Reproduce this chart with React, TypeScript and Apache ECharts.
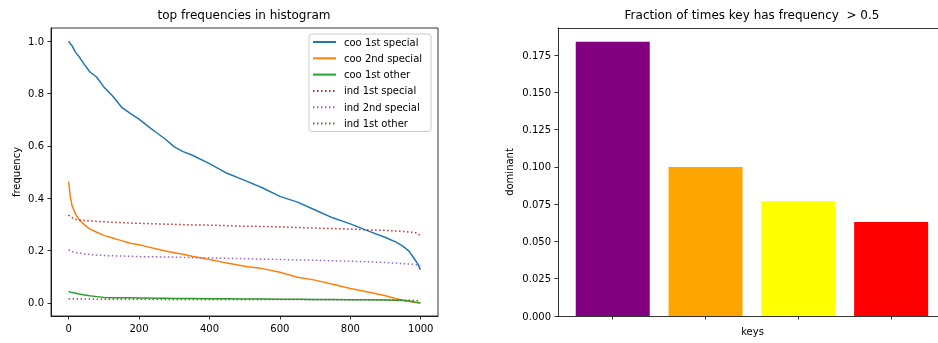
import React, { useEffect, useRef } from "react";
import * as echarts from "echarts";

// ---- data ----
const sampleX = [0, 5, 10, 20, 30, 45, 60, 80, 100, 125, 150, 175, 200, 225, 250, 275, 300, 325, 350, 400, 450, 500, 550, 600, 650, 700, 750, 800, 850, 900, 930, 950, 965, 975, 985, 992, 999];

const coo1stSpecial = [1.0, 0.99, 0.982, 0.957, 0.94, 0.91, 0.883, 0.862, 0.825, 0.79, 0.748, 0.724, 0.702, 0.675, 0.65, 0.625, 0.596, 0.578, 0.565, 0.532, 0.495, 0.468, 0.44, 0.407, 0.385, 0.355, 0.325, 0.302, 0.275, 0.25, 0.232, 0.216, 0.2, 0.182, 0.162, 0.148, 0.127];
const coo2ndSpecial = [0.463, 0.405, 0.37, 0.338, 0.318, 0.298, 0.283, 0.27, 0.258, 0.248, 0.238, 0.228, 0.222, 0.214, 0.206, 0.198, 0.192, 0.186, 0.178, 0.166, 0.152, 0.14, 0.131, 0.117, 0.098, 0.087, 0.071, 0.055, 0.042, 0.027, 0.016, 0.01, 0.006, 0.004, 0.002, 0.001, 0.0];
const coo1stOther = [0.044, 0.041, 0.04, 0.037, 0.034, 0.03, 0.027, 0.024, 0.021, 0.02, 0.02, 0.02, 0.019, 0.019, 0.018, 0.018, 0.017, 0.017, 0.017, 0.016, 0.016, 0.015, 0.015, 0.014, 0.014, 0.013, 0.013, 0.012, 0.012, 0.011, 0.01, 0.009, 0.007, 0.005, 0.003, 0.002, 0.001];
const ind1stSpecial = [0.336, 0.33, 0.326, 0.32, 0.317, 0.315, 0.313, 0.311, 0.31, 0.308, 0.307, 0.305, 0.304, 0.303, 0.302, 0.301, 0.3, 0.299, 0.298, 0.297, 0.295, 0.293, 0.292, 0.29, 0.288, 0.286, 0.284, 0.282, 0.279, 0.277, 0.275, 0.273, 0.271, 0.27, 0.268, 0.265, 0.255];
const ind2ndSpecial = [0.203, 0.199, 0.196, 0.192, 0.19, 0.187, 0.185, 0.183, 0.181, 0.18, 0.179, 0.178, 0.177, 0.176, 0.176, 0.175, 0.175, 0.174, 0.173, 0.172, 0.17, 0.169, 0.167, 0.166, 0.164, 0.163, 0.161, 0.159, 0.157, 0.154, 0.152, 0.15, 0.149, 0.148, 0.146, 0.145, 0.143];
const ind1stOther = [0.016, 0.016, 0.016, 0.015, 0.015, 0.015, 0.015, 0.014, 0.014, 0.014, 0.014, 0.014, 0.014, 0.014, 0.014, 0.013, 0.013, 0.013, 0.013, 0.013, 0.013, 0.013, 0.013, 0.013, 0.013, 0.012, 0.012, 0.012, 0.012, 0.012, 0.011, 0.011, 0.01, 0.01, 0.009, 0.008, 0.007];

const lineNames = ["coo 1st special", "coo 2nd special", "coo 1st other", "ind 1st special", "ind 2nd special", "ind 1st other"];
const lineValues = [coo1stSpecial, coo2ndSpecial, coo1stOther, ind1stSpecial, ind2ndSpecial, ind1stOther];
const lineColors = ["#1f77b4", "#ff7f0e", "#2ca02c", "#d62728", "#9467bd", "#8c564b"];
const lineDotted = [false, false, false, true, true, true];

const barPositions = [0, 1, 2, 3];
const barValues = [0.184, 0.1, 0.077, 0.063];
const barColors = ["#800080", "#ffa500", "#ffff00", "#ff0000"];

const leftXTicks = [0, 200, 400, 600, 800, 1000];
const leftYTicks = [0, 0.2, 0.4, 0.6, 0.8, 1.0];
const rightYTicks = [0, 0.025, 0.05, 0.075, 0.1, 0.125, 0.15, 0.175];

const FONT = "DejaVu Sans";

export default function App() {
  const ref = useRef<HTMLDivElement>(null);
  useEffect(() => {
    if (!ref.current) return;
    const chart = echarts.init(ref.current, null, { renderer: "svg" });
    const axisLine = { show: true, onZero: false, lineStyle: { color: "#000", width: 0.8 } };
    const axisTick = { show: true, length: 3.5, lineStyle: { color: "#000", width: 0.8 } };
    const labelBase = { color: "#000", fontSize: 10, fontFamily: FONT, margin: 7 };

    const lineSeries = lineNames.map((name, i) => ({
      type: "line",
      name,
      xAxisIndex: 0,
      yAxisIndex: 0,
      symbol: "none",
      showSymbol: false,
      data: sampleX.map((x, j) => [x, lineValues[i][j]]),
      lineStyle: {
        color: lineColors[i],
        width: 1.5,
        type: lineDotted[i] ? [1.5, 2.5] : "solid",
      },
      itemStyle: { color: lineColors[i] },
      z: 2 + i,
    }));

    // right panel: the axes box runs past the page edge; show the visible part only
    const barMin = -0.59;
    const barVisibleMax = 3.505;

    chart.setOption({
      animation: false,
      textStyle: { fontFamily: FONT },
      title: [
        {
          text: "top frequencies in histogram",
          left: 244,
          top: 9,
          textAlign: "center",
          padding: 0,
          textStyle: { fontSize: 12, fontWeight: "normal", color: "#000", fontFamily: FONT },
        },
        {
          text: "Fraction of times key has frequency  > 0.5",
          left: 752,
          top: 9,
          textAlign: "center",
          padding: 0,
          textStyle: { fontSize: 12, fontWeight: "normal", color: "#000", fontFamily: FONT },
        },
      ],
      legend: {
        data: lineNames,
        orient: "vertical",
        left: 309,
        top: 34,
        padding: [3, 9, 3, 3],
        itemWidth: 23,
        itemHeight: 10,
        itemGap: 6.3,
        backgroundColor: "rgba(255,255,255,0.8)",
        borderColor: "#cccccc",
        borderWidth: 1,
        borderRadius: 3,
        itemStyle: { opacity: 0, color: "rgba(0,0,0,0)", borderWidth: 0 },
        textStyle: { fontSize: 10, color: "#000", fontFamily: FONT, padding: [0, 0, 0, 3] },
      },
      grid: [
        { left: 51, top: 28, width: 387, height: 288, show: true, borderColor: "#000", borderWidth: 0.8, containLabel: false },
        { left: 558, top: 28, width: 380, height: 288, show: false, containLabel: false },
      ],
      xAxis: [
        {
          type: "value",
          gridIndex: 0,
          min: -50,
          max: 1049,
          axisLine,
          axisTick: { ...axisTick, customValues: leftXTicks },
          axisLabel: { ...labelBase, customValues: leftXTicks, formatter: (v: number) => String(Math.round(v)) },
          splitLine: { show: false },
        },
        {
          type: "value",
          gridIndex: 1,
          min: barMin,
          max: barVisibleMax,
          axisLine,
          axisTick: { ...axisTick, customValues: barPositions },
          axisLabel: { show: false },
          splitLine: { show: false },
          name: "keys",
          nameLocation: "middle",
          nameGap: 10,
          nameTextStyle: { fontSize: 10, color: "#000", fontFamily: FONT, padding: [0, 0, 0, 9] },
        },
        {
          type: "value",
          gridIndex: 1,
          position: "top",
          min: barMin,
          max: barVisibleMax,
          axisLine,
          axisTick: { show: false },
          axisLabel: { show: false },
          splitLine: { show: false },
        },
      ],
      yAxis: [
        {
          type: "value",
          gridIndex: 0,
          min: -0.05,
          max: 1.05,
          axisLine,
          axisTick: { ...axisTick, customValues: leftYTicks },
          axisLabel: { ...labelBase, customValues: leftYTicks, formatter: (v: number) => v.toFixed(1) },
          splitLine: { show: false },
          name: "frequency",
          nameLocation: "middle",
          nameGap: 30,
          nameTextStyle: { fontSize: 10, color: "#000", fontFamily: FONT },
        },
        {
          type: "value",
          gridIndex: 1,
          min: 0,
          max: 0.1932,
          axisLine,
          axisTick: { ...axisTick, customValues: rightYTicks },
          axisLabel: { ...labelBase, customValues: rightYTicks, formatter: (v: number) => v.toFixed(3) },
          splitLine: { show: false },
          name: "dominant",
          nameLocation: "middle",
          nameGap: 44,
          nameTextStyle: { fontSize: 10, color: "#000", fontFamily: FONT },
        },
      ],
      series: [
        ...lineSeries,
        {
          type: "bar",
          name: "dominant",
          xAxisIndex: 1,
          yAxisIndex: 1,
          barWidth: 74,
          data: barPositions.map((p, i) => ({ value: [p, barValues[i]], itemStyle: { color: barColors[i] } })),
        },
      ],
    });
    return () => chart.dispose();
  }, []);
  return <div ref={ref} style={{ position: "fixed", left: 0, top: 0, width: 938, height: 343 }} />;
}
